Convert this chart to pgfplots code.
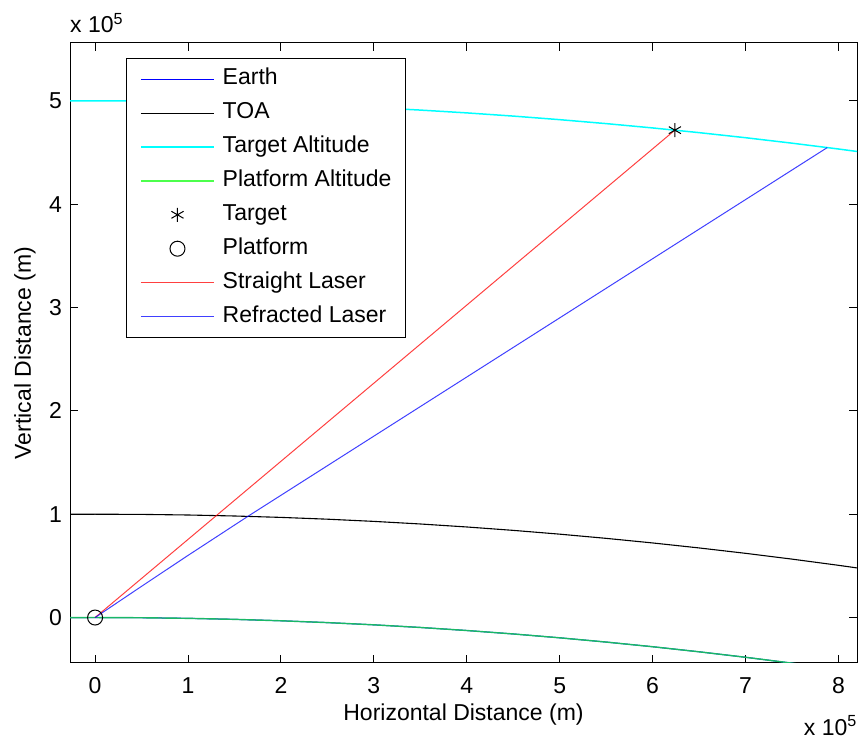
\documentclass[border=0pt]{standalone}
\usepackage{fontspec}
\setmainfont{Liberation Sans}
\usepackage{pgfplots}
\pgfplotsset{compat=1.18}
\definecolor{mgreen}{rgb}{0,1,0}
\definecolor{mblue}{rgb}{0,0,1}
\definecolor{mcyan}{rgb}{0,1,1}
\definecolor{mred}{rgb}{1,0,0}
\definecolor{mblack}{rgb}{0,0,0}
\definecolor{mteal}{rgb}{0.1,0.72,0.4}
\begin{document}
\fontsize{23bp}{27bp}\selectfont
\begin{tikzpicture}
\useasboundingbox (0,0) rectangle (858bp,740bp);
\begin{axis}[
  name=ax,
  at={(70bp,77bp)}, anchor=south west,
  scale only axis, width=787bp, height=620bp,
  xmin=-0.27, xmax=8.2, ymin=-0.44, ymax=5.56,
  xtick={0,1,2,3,4,5,6,7,8}, ytick={0,1,2,3,4,5},
  tick align=inside, tick pos=both, major tick length=8bp,
  axis line style={line width=1bp},
  every tick/.style={line width=1bp, black},
  /pgf/number format/assume math mode=true,
  xticklabel style={anchor=north, inner sep=0pt, yshift=-14bp},
  yticklabel style={anchor=east, inner sep=0pt, xshift=-8bp},
  xlabel={Horizontal Distance (m)},
  ylabel={Vertical Distance (m)},
  xlabel style={at={(axis description cs:0.5,-0.0839)}, anchor=center},
  ylabel style={at={(axis description cs:-0.0572,0.5)}, anchor=center},
  legend style={at={(0.0712,0.9758)}, anchor=north west, fill=white,
    inner xsep=14bp, inner ysep=10bp, row sep=11.9bp, column sep=8bp,
    nodes={inner sep=0pt, text height=16.5bp, text depth=5.5bp}},
  legend cell align=left,
  legend image code/.code={\draw[mark repeat=2,mark phase=2,#1] plot coordinates {(0bp,0bp) (36.5bp,0bp) (73bp,0bp)};},
]
% Earth
\addplot[draw=mblue, line width=1bp, no markers,
  legend image code/.code={\draw[draw=mblue, line width=1.2bp] (0bp,0bp) -- (73bp,0bp);}] coordinates {
(-0.3,-0.0007) (0,0) (0.5,-0.00196) (1,-0.00785) (1.5,-0.01766) (2,-0.03139) (2.5,-0.04905) (3,-0.07063) (3.5,-0.09614) (4,-0.12557) (4.5,-0.15892) (5,-0.19620) (5.5,-0.23740) (6,-0.28253) (6.5,-0.33158) (7,-0.38456) (7.5,-0.44146) (8,-0.50228) (8.5,-0.56702)};
\addlegendentry{Earth}
% TOA
\addplot[draw=mblack, line width=1.1bp, no markers] coordinates {
(-0.3,0.9993) (0,1) (0.5,0.99807) (1,0.99227) (1.5,0.98261) (2,0.96909) (2.5,0.95171) (3,0.93046) (3.5,0.90535) (4,0.87637) (4.5,0.84353) (5,0.80683) (5.5,0.76627) (6,0.72184) (6.5,0.67354) (7,0.62139) (7.5,0.56537) (8,0.50549) (8.5,0.44174)};
\addlegendentry{TOA}
% Target altitude
\addplot[draw=mcyan, line width=1.5bp, no markers] coordinates {
(-0.3,4.99935) (0,5) (0.5,4.99818) (1,4.99272) (1.5,4.98363) (2,4.97089) (2.5,4.95452) (3,4.93451) (3.5,4.91086) (4,4.88357) (4.5,4.85264) (5,4.81808) (5.5,4.77987) (6,4.73803) (6.5,4.69255) (7,4.64343) (7.5,4.59067) (8,4.53427) (8.5,4.47424)};
\addlegendentry{Target Altitude}
% Platform altitude
\addplot[draw=mteal, line width=1.4bp, no markers,
  legend image code/.code={\draw[draw=mgreen, draw opacity=0.7, line width=1.4bp] (0bp,0bp) -- (73bp,0bp);}] coordinates {
(-0.3,-0.0007) (0,0) (0.5,-0.00196) (1,-0.00785) (1.5,-0.01766) (2,-0.03139) (2.5,-0.04905) (3,-0.07063) (3.5,-0.09614) (4,-0.12557) (4.5,-0.15892) (5,-0.19620) (5.5,-0.23740) (6,-0.28253) (6.5,-0.33158) (7,-0.38456) (7.5,-0.44146) (8,-0.50228) (8.5,-0.56702)};
\addlegendentry{Platform Altitude}
% Target
\addplot[color=mblack, only marks, mark=asterisk, mark size=7bp, line width=1bp] coordinates {(6.24,4.7166)};
\addlegendentry{Target}
% Platform
\addplot[color=mblack, only marks, mark=o, mark size=7.5bp, line width=1bp] coordinates {(0,0)};
\addlegendentry{Platform}
% Straight laser
\addplot[draw=mred, draw opacity=0.75, line width=1bp, no markers] coordinates {(0,0) (6.24,4.7166)};
\addlegendentry{Straight Laser}
% Refracted laser
\addplot[draw=mblue, draw opacity=0.75, line width=1bp, no markers] coordinates {(0,0) (0.5,0.302) (1.0,0.601) (1.656,0.986) (7.88,4.548)};
\addlegendentry{Refracted Laser}
\end{axis}
\node[anchor=base west, inner sep=0pt] at ([yshift=10bp]ax.north west) {x 10\textsuperscript{5}};
\node[anchor=base east, inner sep=0pt] at ([yshift=-72bp]ax.south east) {x 10\textsuperscript{5}};
\end{tikzpicture}
\end{document}
